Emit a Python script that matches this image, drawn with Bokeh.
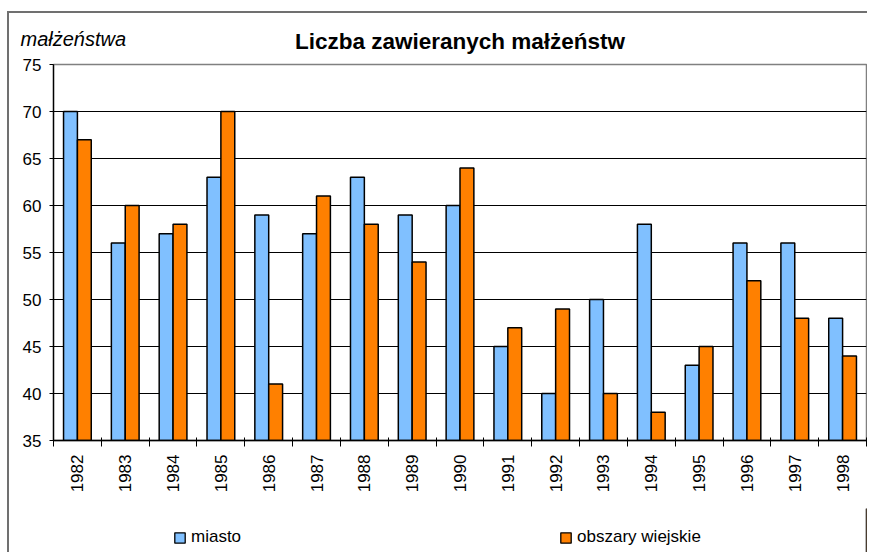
import numpy as np
from bokeh.plotting import figure
from bokeh.layouts import column
from bokeh.models import (Range1d, FixedTicker, Legend, LegendItem, Label,
                          ColumnDataSource)
from bokeh.embed import file_html
from bokeh.resources import INLINE

years = ["1982", "1983", "1984", "1985", "1986", "1987", "1988", "1989", "1990",
         "1991", "1992", "1993", "1994", "1995", "1996", "1997", "1998"]
miasto = [70, 56, 57, 63, 59, 57, 63, 59, 60, 45, 40, 50, 58, 43, 56, 56, 48]
wies = [67, 60, 58, 70, 41, 61, 58, 54, 64, 47, 49, 40, 38, 45, 52, 48, 44]
y_ticks = [35, 40, 45, 50, 55, 60, 65, 70, 75]
series_names = ["miasto", "obszary wiejskie"]
colors = ["#80C0FF", "#FF8000"]
title_text = "Liczba zawieranych małżeństw"
y_label = "małżeństwa"

FONT = "Liberation Sans"
FRAME_W = 813
n = len(years)
centers = np.arange(n) + 0.5
bw = 0.29

src = ColumnDataSource(dict(
    x1=centers - bw / 2, x2=centers + bw / 2, miasto=miasto, wies=wies))

p = figure(width=858, height=495, output_backend="svg", toolbar_location=None,
           x_range=Range1d(0, n), y_range=Range1d(35, 75),
           min_border_left=44, min_border_right=1, min_border_top=51,
           min_border_bottom=68, background_fill_color="white",
           border_fill_color="white")

p.vbar(x="x1", top="miasto", bottom=35, width=bw, source=src,
       fill_color=colors[0], line_color="black", line_width=1.5)
p.vbar(x="x2", top="wies", bottom=35, width=bw, source=src,
       fill_color=colors[1], line_color="black", line_width=1.5)

# axes
p.xaxis.ticker = FixedTicker(ticks=list(centers), minor_ticks=list(np.arange(n + 1)))
p.xaxis.major_label_overrides = {float(c): y for c, y in zip(centers, years)}
p.xaxis.major_label_orientation = np.pi / 2
p.xaxis.major_tick_line_color = None
p.xaxis.minor_tick_in = 3
p.xaxis.minor_tick_out = 6
p.xaxis.minor_tick_line_color = "black"
p.xaxis.axis_line_color = "black"
p.xaxis.axis_line_width = 1.3
p.xaxis.major_label_text_font = FONT
p.xaxis.major_label_text_font_size = "17px"
p.xaxis.major_label_text_color = "black"
p.xaxis.major_label_standoff = 8

p.yaxis.ticker = FixedTicker(ticks=y_ticks)
p.yaxis.minor_tick_line_color = None
p.yaxis.major_tick_in = 0
p.yaxis.major_tick_out = 4
p.yaxis.major_tick_line_color = "black"
p.yaxis.axis_line_color = "black"
p.yaxis.axis_line_width = 1.3
p.yaxis.major_label_text_font = FONT
p.yaxis.major_label_text_font_size = "17px"
p.yaxis.major_label_text_color = "black"
p.yaxis.major_label_standoff = 8

p.xgrid.grid_line_color = None
p.ygrid.ticker = FixedTicker(ticks=y_ticks)
p.ygrid.grid_line_color = "black"
p.ygrid.grid_line_width = 1

p.outline_line_color = "#808080"
p.outline_line_width = 1.5

# texts in the area above the plot frame (each label gets its own row there)
p.add_layout(Label(x=FRAME_W / 2, y=23, x_units="screen", y_units="screen",
                   text=title_text, text_font=FONT, text_font_size="22.5px",
                   text_font_style="bold", text_color="black",
                   text_align="center", text_baseline="middle"), "above")
p.add_layout(Label(x=-33, y=1, x_units="screen", y_units="screen",
                   text=y_label, text_font=FONT, text_font_size="20px",
                   text_font_style="italic", text_color="black",
                   text_baseline="middle"), "above")

# legend strip below the chart
lg = figure(width=858, height=44, output_backend="svg", toolbar_location=None,
            x_range=Range1d(0, 1), y_range=Range1d(0, 1),
            min_border_left=44, min_border_right=1, min_border_top=0,
            min_border_bottom=0, background_fill_color="white",
            border_fill_color="white", outline_line_color=None)
lg.axis.visible = False
lg.grid.visible = False
proxy = ColumnDataSource(dict(x=[5], top=[5]))
lr1 = lg.vbar(x="x", top="top", width=0.1, source=proxy, fill_color=colors[0],
              line_color="black", line_width=1.3)
lr2 = lg.vbar(x="x", top="top", width=0.1, source=proxy, fill_color=colors[1],
              line_color="black", line_width=1.3)
legend = Legend(items=[LegendItem(label=series_names[0], renderers=[lr1]),
                       LegendItem(label=series_names[1], renderers=[lr2])],
                orientation="horizontal", location=(120, 5),
                spacing=318, padding=0, margin=0, glyph_width=13,
                glyph_height=13, label_standoff=5, label_height=13,
                label_text_font=FONT,
                label_text_font_size="17px", label_text_color="black",
                border_line_color=None, background_fill_alpha=0)
lg.add_layout(legend, "center")

layout = column(p, lg, spacing=0,
                styles={"margin-left": "7px", "margin-top": "11px",
                        "border-top": "2px solid #707070",
                        "border-left": "2px solid #707070",
                        "overflow": "hidden"})
open("out.html", "w").write(file_html(layout, INLINE))
